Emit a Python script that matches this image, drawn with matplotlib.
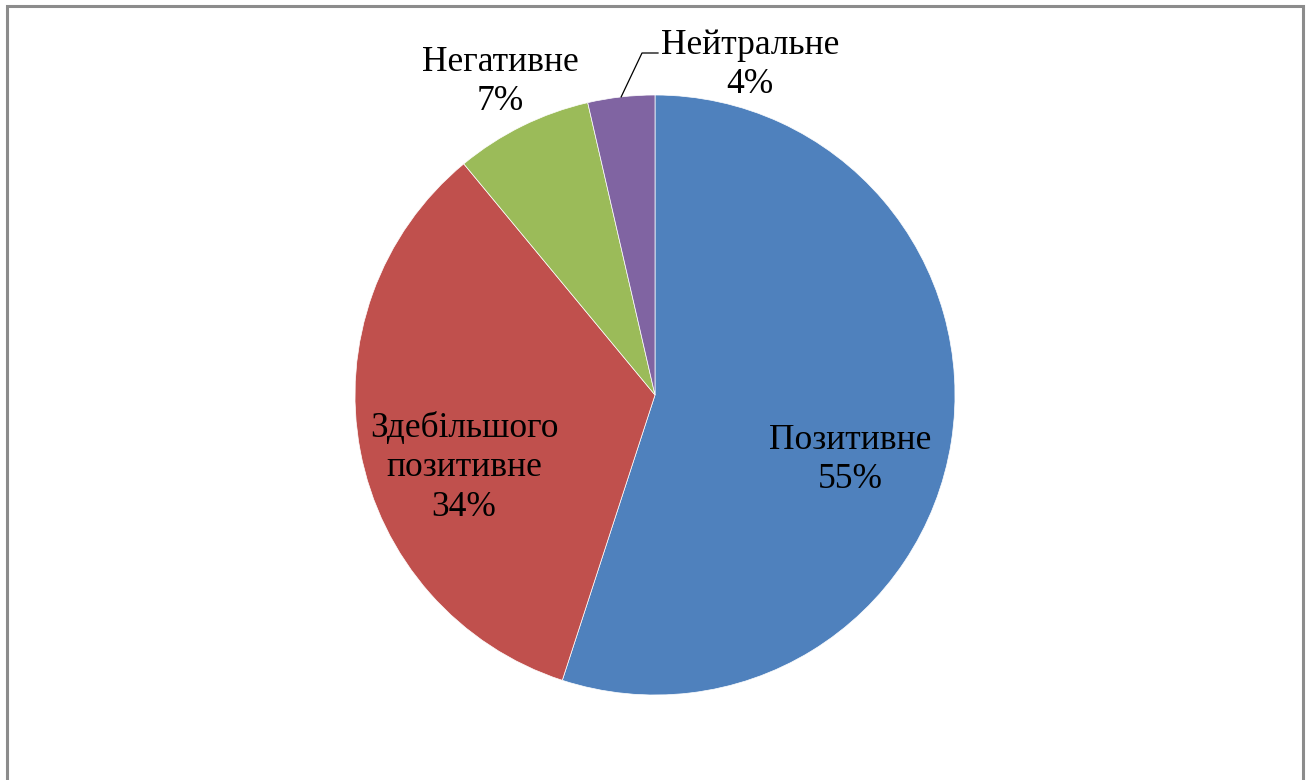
import numpy as np
import matplotlib.pyplot as plt
from matplotlib.patches import Rectangle

# data
labels = ["Позитивне", "Здебільшого\nпозитивне", "Негативне", "Нейтральне"]
shares = [55.0, 34.0, 7.4, 3.6]
colors = ["#4F81BD", "#C0504D", "#9BBB59", "#8064A2"]

plt.rcParams['font.family'] = ['Liberation Serif', 'DejaVu Serif']

W, H = 1310, 780
fig = plt.figure(figsize=(W / 100, H / 100), dpi=100)
fig.patch.set_facecolor("white")

# pie centre (655, 395) px, radius 300 px
cx, cy, r = 655, 395, 300
ax = fig.add_axes([(cx - r) / W, (H - cy - r) / H, 2 * r / W, 2 * r / H])
wedges, _ = ax.pie(shares, colors=colors, startangle=90, counterclock=False,
                   radius=1, wedgeprops=dict(edgecolor="white", linewidth=0.5))
ax.set_xlim(-1, 1)
ax.set_ylim(-1, 1)
ax.set_aspect("equal")
ax.axis("off")

# label positions (pixels in the picture) -> data coords
def px(x, y):
    return (x - cx) / r, (cy - y) / r

label_px = [(850, 460), (464, 468), (500, 82), (750, 65)]
fs = 25.5
for lab, val, (x, y) in zip(labels, shares, label_px):
    tx, ty = px(x, y)
    ax.text(tx, ty, f"{lab}\n{val:.0f}%", ha="center", va="center", fontsize=fs,
            color="black", linespacing=1.25, clip_on=False)

# leader line for the small slice
w = wedges[3]
ang = np.deg2rad((w.theta1 + w.theta2) / 2)
x0, y0 = np.cos(ang) * 1.0, np.sin(ang) * 1.0
x1, y1 = px(642, 53)
x2, y2 = px(658, 53)
ax.plot([x0, x1, x2], [y0, y1, y2], color="black", lw=0.9, clip_on=False)

# outer frame
fig.patches.append(Rectangle((6.5 / W, -0.1), (1302.5 - 6.5) / W, 1.1 - 6.5 / H,
                             transform=fig.transFigure, fill=False,
                             edgecolor="#8c8c8c", linewidth=2.2))

fig.savefig("out.png", dpi=100)
